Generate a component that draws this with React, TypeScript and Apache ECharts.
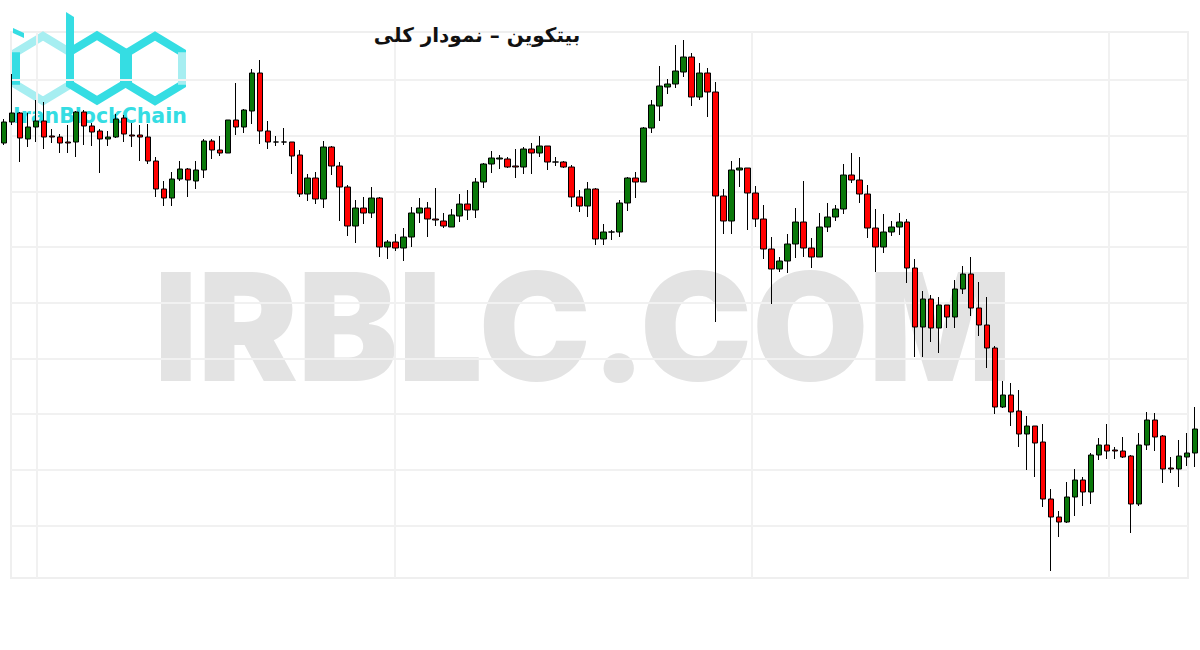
import React, { useEffect, useRef } from "react";
import * as echarts from "echarts";

// Price levels (arbitrary units, higher = higher on screen)
const opens = [
  457, 478, 487, 461, 473, 479, 464, 463, 458, 458, 488, 474, 469, 461, 463, 482, 465, 465, 463, 439,
  411, 402, 421, 431, 419, 430, 459, 450, 447, 480, 473, 489, 527, 469, 458, 458, 458, 445, 406, 422,
  401, 453, 434, 413, 374, 392, 387, 402, 353, 358, 352, 363, 387, 392, 381, 379, 373, 384, 396, 390,
  418, 436, 441, 441, 434, 433, 451, 447, 454, 438, 438, 433, 403, 394, 411, 361, 368, 368, 397, 422,
  418, 472, 494, 513, 516, 528, 543, 503, 527, 508, 404, 379, 430, 432, 407, 381, 351, 331, 339, 356,
  378, 352, 343, 373, 383, 391, 425, 420, 406, 372, 353, 368, 373, 378, 332, 273, 301, 272, 295, 283,
  311, 326, 292, 275, 252, 193, 205, 189, 166, 174, 158, 101, 83, 78, 103, 120, 108, 145, 155, 150,
  149, 144, 96, 155, 180, 164, 132, 131, 143, 147,
];
const closes = [
  478, 487, 462, 473, 479, 463, 463, 457, 457, 488, 474, 468, 461, 463, 481, 466, 464, 463, 439, 411,
  402, 421, 431, 420, 430, 459, 450, 447, 480, 473, 490, 527, 469, 458, 458, 458, 444, 406, 422, 401,
  453, 434, 413, 374, 392, 387, 402, 353, 358, 352, 363, 387, 392, 381, 380, 374, 385, 396, 390, 418,
  436, 442, 442, 433, 433, 451, 447, 454, 438, 438, 433, 403, 394, 411, 361, 368, 368, 397, 422, 418,
  472, 495, 514, 516, 529, 543, 503, 527, 508, 404, 379, 430, 432, 407, 381, 351, 331, 339, 356, 378,
  352, 343, 373, 383, 391, 425, 420, 406, 372, 353, 368, 373, 378, 332, 273, 301, 272, 295, 283, 311,
  326, 292, 275, 252, 193, 205, 188, 166, 174, 157, 101, 83, 78, 103, 120, 108, 145, 155, 149, 149,
  143, 96, 155, 180, 163, 131, 131, 144, 147, 171,
];
const lows = [
  455, 475, 438, 453, 458, 451, 457, 447, 447, 443, 455, 454, 427, 454, 462, 458, 453, 439, 436, 403,
  394, 394, 419, 403, 411, 422, 441, 444, 447, 465, 467, 476, 456, 451, 454, 455, 426, 403, 399, 396,
  392, 425, 379, 364, 357, 376, 382, 343, 341, 349, 339, 353, 377, 363, 374, 372, 373, 378, 380, 382,
  412, 427, 431, 432, 422, 426, 426, 443, 430, 434, 432, 393, 388, 383, 355, 355, 360, 363, 389, 402,
  418, 467, 479, 506, 512, 523, 494, 500, 483, 278, 366, 366, 413, 370, 373, 341, 296, 328, 327, 342,
  343, 332, 343, 368, 379, 386, 417, 397, 362, 328, 347, 364, 365, 317, 243, 243, 258, 247, 272, 272,
  306, 284, 264, 232, 186, 192, 174, 153, 130, 123, 93, 29, 63, 77, 84, 94, 96, 140, 141, 141,
  142, 67, 94, 150, 149, 117, 127, 113, 134, 133,
];
const highs = [
  481, 526, 488, 487, 500, 498, 471, 466, 475, 489, 490, 477, 471, 469, 486, 485, 477, 475, 476, 443,
  419, 428, 439, 432, 439, 461, 461, 464, 480, 517, 491, 531, 540, 479, 464, 472, 458, 450, 426, 428,
  459, 454, 438, 415, 400, 403, 413, 403, 360, 366, 372, 393, 402, 398, 412, 387, 391, 406, 410, 422,
  437, 449, 445, 443, 451, 453, 457, 464, 454, 443, 439, 435, 410, 418, 412, 376, 370, 400, 423, 428,
  473, 500, 534, 521, 555, 560, 547, 537, 532, 518, 411, 439, 442, 432, 414, 395, 363, 343, 366, 392,
  419, 362, 387, 397, 395, 436, 447, 443, 415, 391, 386, 379, 387, 381, 341, 309, 305, 303, 295, 320,
  334, 343, 318, 303, 254, 219, 217, 210, 184, 174, 176, 111, 89, 118, 131, 123, 147, 162, 176, 153,
  163, 145, 167, 188, 187, 165, 143, 160, 167, 193,
];
const categories = opens.map((_, i) => `${i + 1}`);

const TITLE = "بیتکوین – نمودار کلی";
const WATERMARK = "IRBLC.COM";
const LOGO_TEXT = "IranBlockChain";

const hexPoints = (cx: number, cy: number, a: number, b: number) => [
  [cx, cy - b],
  [cx + a, cy - b / 2],
  [cx + a, cy + b / 2],
  [cx, cy + b],
  [cx - a, cy + b / 2],
  [cx - a, cy - b / 2],
];

export default function App() {
  const ref = useRef<HTMLDivElement>(null);
  useEffect(() => {
    if (!ref.current) return;
    const chart = echarts.init(ref.current, null, { renderer: "svg" });
    const data = opens.map((o, i) => [o, closes[i], lows[i], highs[i]]);
    const gridLine = { show: true, lineStyle: { color: "#f1f1f1", width: 2 } };
    const HA = 27;
    const HB = 32.5;
    const bright = "#35dde3";
    const light = "#a6eef1";
    const option: any = {
      animation: false,
      backgroundColor: "#ffffff",
      grid: [
        { left: -1, top: 32, width: 1200, height: 546 },
        { left: 11, top: 80, width: 1177, height: 445.6 },
        { left: 37, top: 32, width: 1072, height: 546 },
        {
          left: 11, top: 32, width: 1177, height: 546, show: true,
          borderColor: "#efefef", borderWidth: 2, backgroundColor: "transparent",
        },
      ],
      xAxis: [
        { type: "category", gridIndex: 0, data: categories, show: false, boundaryGap: true },
        { type: "value", gridIndex: 1, min: 0, max: 1, show: false },
        {
          type: "value", gridIndex: 2, min: 0, max: 3, interval: 1,
          axisLine: { show: false }, axisTick: { show: false }, axisLabel: { show: false },
          splitLine: gridLine,
        },
        { type: "value", gridIndex: 3, min: 0, max: 1, show: false },
      ],
      yAxis: [
        { type: "value", gridIndex: 0, min: 22, max: 568, show: false },
        {
          type: "value", gridIndex: 1, min: 0, max: 8, interval: 1,
          axisLine: { show: false }, axisTick: { show: false }, axisLabel: { show: false },
          splitLine: gridLine,
        },
        { type: "value", gridIndex: 2, min: 0, max: 1, show: false },
        { type: "value", gridIndex: 3, min: 0, max: 1, show: false },
      ],
      graphic: [
        {
          type: "text", z: -1, silent: true,
          style: {
            x: 583, y: 326, text: WATERMARK, align: "center", verticalAlign: "middle",
            fontSize: 150, fontWeight: 900, fontFamily: "Inter, Lato, sans-serif", fill: "#e3e3e3",
          },
        },
        {
          type: "text", z: 10,
          style: {
            x: 477, y: 35, text: TITLE, align: "center", verticalAlign: "middle",
            fontSize: 20, fontWeight: "bold", fontFamily: "'DejaVu Sans', sans-serif", fill: "#111111",
          },
        },
        {
          type: "group", z: 10,
          children: [
            { type: "polygon", shape: { points: hexPoints(43, 68.5, HA, HB) }, style: { fill: "none", stroke: light, lineWidth: 8 } },
            { type: "polyline", shape: { points: [[43 - HA, 68.5 - HB / 2], [43 - HA, 68.5 + HB / 2]] }, style: { stroke: bright, lineWidth: 8 } },
            { type: "polygon", shape: { points: hexPoints(97, 68, HA, HB) }, style: { fill: "none", stroke: bright, lineWidth: 8 } },
            { type: "polygon", shape: { points: hexPoints(155, 68.5, HA, HB) }, style: { fill: "none", stroke: bright, lineWidth: 8 } },
            { type: "polyline", shape: { points: [[155 + HA, 68.5 - HB / 2], [155 + HA, 68.5 + HB / 2]] }, style: { stroke: light, lineWidth: 8 } },
            { type: "polygon", shape: { points: [[66, 12], [74, 17], [74, 54], [66, 54]] }, style: { fill: bright } },
            { type: "polygon", shape: { points: [[13, 28], [24, 33], [24, 38], [13, 33]] }, style: { fill: bright } },
            {
              type: "text",
              style: {
                x: 13, y: 116, text: LOGO_TEXT, verticalAlign: "middle",
                fontSize: 20.5, fontWeight: "bold", fontFamily: "'DejaVu Sans', sans-serif", fill: bright,
              },
            },
          ],
        },
      ],
      series: [
        {
          type: "candlestick",
          xAxisIndex: 0,
          yAxisIndex: 0,
          data,
          barWidth: 6,
          itemStyle: {
            color: "#0a780a",
            color0: "#ff0000",
            borderColor: "#000000",
            borderColor0: "#000000",
            borderColorDoji: "#000000",
            borderWidth: 1,
          },
        },
      ],
    };
    chart.setOption(option);
    return () => chart.dispose();
  }, []);
  return (
    <div
      ref={ref}
      style={{ position: "fixed", left: 0, top: 0, width: 1200, height: 650, background: "#fff" }}
    />
  );
}
